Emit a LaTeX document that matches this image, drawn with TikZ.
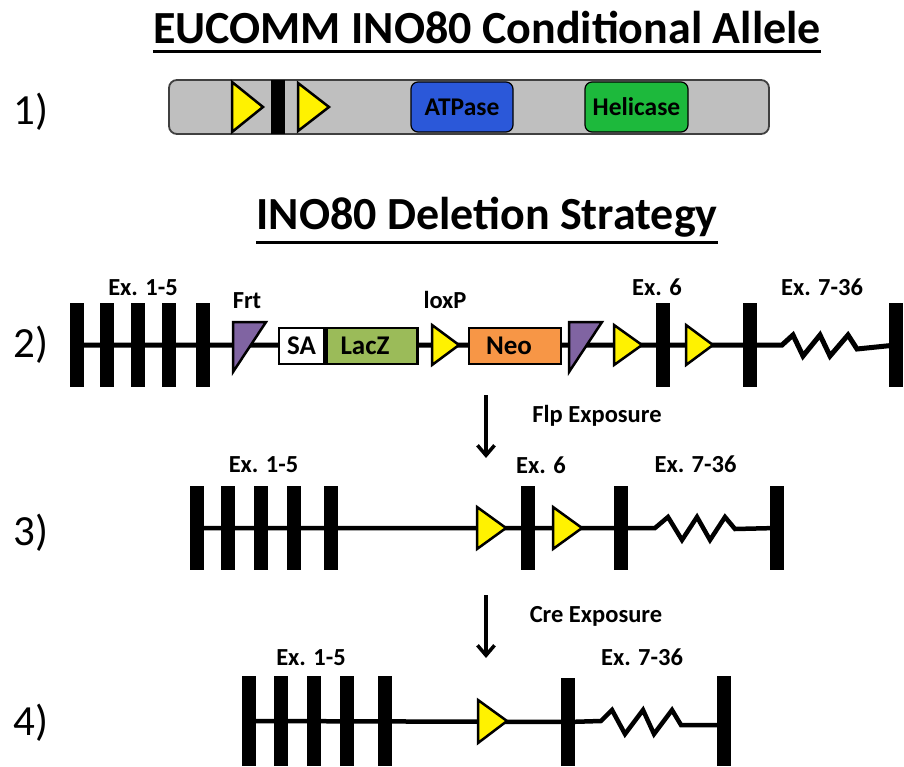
\documentclass[tikz,border=0pt]{standalone}
\usepackage{fontspec}
\setmainfont{Carlito}
\usetikzlibrary{arrows.meta,backgrounds}
\definecolor{protgray}{RGB}{191,191,191}
\definecolor{protedge}{RGB}{64,64,64}
\definecolor{atpblue}{RGB}{43,88,217}
\definecolor{helgreen}{RGB}{29,185,60}
\definecolor{laczgreen}{RGB}{155,187,89}
\definecolor{neoorange}{RGB}{247,150,70}
\definecolor{frtpurple}{RGB}{128,100,162}
\begin{document}
\begin{tikzpicture}[x=1pt,y=-1pt,
  titletext/.style={font=\bfseries\fontsize{46}{50}\selectfont, anchor=base, inner sep=0pt},
  uline/.style={line width=3pt},
  rowlabel/.style={font=\fontsize{43}{46}\selectfont, anchor=base, inner sep=0pt},
  exlabel/.style={font=\bfseries\fontsize{24.5}{26}\selectfont, anchor=base, inner sep=0pt},
  exposure/.style={font=\bfseries\fontsize{24.5}{26}\selectfont, anchor=base, inner sep=0pt},
  exon/.style={rectangle, fill=black, inner sep=0pt, minimum width=14pt, minimum height=84pt},
  cassette/.style={rectangle, draw=black, line width=2.5pt, inner sep=0pt, minimum height=36pt,
    font=\bfseries\fontsize{27}{28}\selectfont},
  protdomain/.style={rectangle, rounded corners=7pt, draw=black, line width=1.2pt, inner sep=0pt,
    minimum height=50pt, font=\bfseries\fontsize{25.5}{27}\selectfont},
  lox/.style={fill=yellow, draw=black, line width=2.5pt, line join=miter},
  frt/.style={fill=frtpurple, draw=black, line width=2.5pt, line join=miter},
  backbone/.style={line width=5pt, line join=miter},
  steparrow/.style={line width=3.5pt, -{Straight Barb[length=10pt,width=17pt,line width=3.5pt]}}
]
\useasboundingbox (0,0) rectangle (904,767);

% ---------- titles ----------
\node[titletext] (t1) at (487,44) {EUCOMM INO80 Conditional Allele};
\draw[uline] ([yshift=-8pt]t1.base west) -- ([yshift=-8pt]t1.base east);
\node[titletext] (t2) at (487,230) {INO80 Deletion Strategy};
\draw[uline] ([yshift=-13pt]t2.base west) -- ([yshift=-13pt]t2.base east);

% ---------- row labels ----------
\node[rowlabel] (l1) at (31,125) {1)};
\node[rowlabel] (l2) at (31,357) {2)};
\node[rowlabel] (l3) at (31,545) {3)};
\node[rowlabel] (l4) at (31,735) {4)};

% ---------- row 1 ----------
\node[rectangle, rounded corners=8pt, fill=protgray, draw=protedge, line width=1.8pt,
  minimum width=600pt, minimum height=54pt, inner sep=0pt] (prot) at (469,107) {};
\draw[lox] (232,82) -- (232,132) -- (263,107) -- cycle;
\node[exon, minimum width=14pt, minimum height=54pt] (p1bar) at (278,107) {};
\draw[lox] (298,83) -- (298,131) -- (329,107) -- cycle;
\node[protdomain, fill=atpblue, minimum width=102pt] (atp) at (462,107) {ATPase};
\node[protdomain, fill=helgreen, minimum width=103pt] (hel) at (636.5,107) {Helicase};

% ---------- row 2 ----------
\node[exon] (r2b1) at (77,345) {};
\node[exon] (r2b2) at (106.5,345) {};
\node[exon] (r2b3) at (137.5,345) {};
\node[exon] (r2b4) at (168.5,345) {};
\node[exon] (r2b5) at (203,345) {};
\node[exon] (r2e6) at (662.5,345) {};
\node[exon] (r2e7) at (750,345) {};
\node[exon] (r2end) at (896,345) {};
\begin{pgfonlayer}{background}
\draw[backbone] (r2b1.center) -- (r2e7.center) -- (782,345) -- (793,335) -- (803,356)
  -- (820,335) -- (830,356) -- (848,335) -- (857,349) -- (r2end.center);
\end{pgfonlayer}
\draw[frt] (233,322) -- (266,322) -- (233,372) -- cycle;
\node[cassette, fill=white, minimum width=45pt] (sa) at (301.5,346) {SA};
\node[cassette, fill=laczgreen, minimum width=91pt, anchor=west] (lacz) at (sa.east) {\hspace*{-14pt}LacZ};
\draw[lox] (432,325) -- (432,365) -- (459,345) -- cycle;
\node[cassette, fill=neoorange, minimum width=92pt] (neo) at (515,346) {\hspace*{-12pt}Neo};
\draw[frt] (569,322) -- (602,322) -- (569,372) -- cycle;
\draw[lox] (614,325) -- (614,365) -- (642,345) -- cycle;
\draw[lox] (686,325) -- (686,365) -- (713,345) -- cycle;
\node[exlabel] (r2x15) at (143,295) {Ex. 1-5};
\node[exlabel] (r2frt) at (247,308) {Frt};
\node[exlabel] (r2lox) at (445,308) {loxP};
\node[exlabel] (r2x6) at (657,295) {Ex. 6};
\node[exlabel] (r2x7) at (822,295) {Ex. 7-36};

% ---------- arrow 1 ----------
\coordinate (a1s) at (486,395);
\coordinate (a1e) at (486,458);
\draw[steparrow] (a1s) -- (a1e);
\node[exposure] (flp) at (597,422) {Flp Exposure};

% ---------- row 3 ----------
\node[exon] (r3b1) at (196.5,528) {};
\node[exon] (r3b2) at (227.5,528) {};
\node[exon] (r3b3) at (260.5,528) {};
\node[exon] (r3b4) at (293.5,528) {};
\node[exon] (r3b5) at (330.5,528) {};
\node[exon] (r3e6) at (527.5,528) {};
\node[exon] (r3e7) at (621,528) {};
\node[exon] (r3end) at (777,528) {};
\begin{pgfonlayer}{background}
\draw[backbone, line width=4.5pt] (r3b1.center) -- (r3e7.center) -- (655,528) -- (668,517) -- (682,540)
  -- (697,517) -- (710,540) -- (725,517) -- (735,529) -- (r3end.center);
\end{pgfonlayer}
\draw[lox] (477,507) -- (477,549) -- (506,528) -- cycle;
\draw[lox] (553,507) -- (553,549) -- (582,528) -- cycle;
\node[exlabel] (r3x15) at (263.5,472) {Ex. 1-5};
\node[exlabel] (r3x6) at (541,473) {Ex. 6};
\node[exlabel] (r3x7) at (695.5,472) {Ex. 7-36};

% ---------- arrow 2 ----------
\coordinate (a2s) at (486,595);
\coordinate (a2e) at (486,658);
\draw[steparrow] (a2s) -- (a2e);
\node[exposure] (cre) at (596,622) {Cre Exposure};

% ---------- row 4 ----------
\node[exon, minimum height=90pt] (r4b1) at (249,721) {};
\node[exon, minimum height=90pt] (r4b2) at (280.5,721) {};
\node[exon, minimum height=90pt] (r4b3) at (313.5,721) {};
\node[exon, minimum height=90pt] (r4b4) at (346.5,721) {};
\node[exon, minimum height=90pt] (r4b5) at (384.5,721) {};
\node[exon, minimum height=88pt] (r4e7) at (567.5,722) {};
\node[exon, minimum height=90pt] (r4end) at (724,721) {};
\begin{pgfonlayer}{background}
\draw[backbone, line width=4.5pt] (r4b1.center) -- (r4e7.center) -- (601,721) -- (612,710) -- (625,734)
  -- (643,710) -- (654,734) -- (672,710) -- (681,725) -| (r4end.center);
\end{pgfonlayer}
\draw[lox] (478,700) -- (478,743) -- (507,721) -- cycle;
\node[exlabel] (r4x15) at (311,665) {Ex. 1-5};
\node[exlabel] (r4x7) at (642,665) {Ex. 7-36};
\end{tikzpicture}
\end{document}
